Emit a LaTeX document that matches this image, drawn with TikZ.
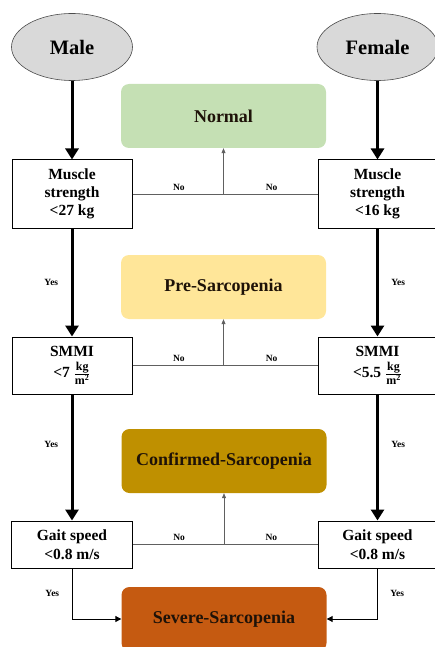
\documentclass[tikz,border=0pt]{standalone}
\usepackage{amsmath}
\usepackage{fontspec}
\setmainfont{Liberation Serif}
\usetikzlibrary{arrows.meta,shapes.geometric}
\definecolor{sexgray}{HTML}{D9D9D9}
\definecolor{normalgreen}{HTML}{C5E0B4}
\definecolor{preyellow}{HTML}{FFE699}
\definecolor{confgold}{HTML}{BF9000}
\definecolor{severeorange}{HTML}{C55A11}
\definecolor{linegray}{HTML}{606060}
\definecolor{textdark}{HTML}{1E1208}
\newcommand{\kgpersq}{$\frac{\hbox{\fontsize{12}{12}\selectfont\bfseries kg}}{\hbox{\fontsize{12}{12}\selectfont\bfseries m\textsuperscript{2}}}$}
\begin{document}
\begin{tikzpicture}[x=1pt,y=-1pt,
  sex/.style={ellipse,draw=black!70,line width=0.6pt,fill=sexgray,minimum width=121pt,minimum height=67pt,inner sep=0pt,font=\fontsize{20.5}{24}\selectfont\bfseries},
  test/.style={rectangle,draw,line width=1pt,align=center,inner sep=0pt,font=\fontsize{15.5}{18}\selectfont\bfseries},
  grade/.style={rectangle,rounded corners=8pt,minimum width=205pt,minimum height=64pt,text=textdark,font=\fontsize{18}{21}\selectfont\bfseries},
  thick arrow/.style={line width=3pt,-{Triangle[width=13pt,length=11pt]}},
  thin line/.style={line width=0.6pt,linegray},
  thin arrow/.style={line width=0.6pt,linegray,-{Triangle[width=4pt,length=5pt]}},
  yes arrow/.style={line width=1pt,-{Triangle[width=6pt,length=6pt]}},
  lbl/.style={text=black,font=\fontsize{9.5}{11}\selectfont\bfseries}]
  \useasboundingbox (0,0) rectangle (435,647);

  \node[sex] (male) at (72,47) {Male};
  \node[sex] (female) at (377.5,47) {Female};

  \node[grade,fill=normalgreen] (normal) at (223.5,116) {Normal};
  \node[grade,fill=preyellow] (pre) at (223.5,287) {Pre-Sarcopenia};
  \node[grade,fill=confgold] (confirmed) at (224,461) {Confirmed-Sarcopenia};
  \node[grade,fill=severeorange] (severe) at (224,619) {Severe-Sarcopenia};

  \node[test,minimum width=120pt,minimum height=68pt] (lmus) at (72,194) {Muscle\\strength\\<27 kg};
  \node[test,minimum width=118pt,minimum height=68pt] (rmus) at (377.5,194) {Muscle\\strength\\<16 kg};
  \node[test,minimum width=120pt,minimum height=57pt] (lsmmi) at (72,365.5) {SMMI\\[3pt]<7 \kgpersq};
  \node[test,minimum width=118pt,minimum height=57pt] (rsmmi) at (377.5,365.5) {SMMI\\[3pt]<5.5 \kgpersq};
  \node[test,minimum width=121pt,minimum height=47pt] (lgait) at (72,544.5) {Gait speed\\[1pt]<0.8 m/s};
  \node[test,minimum width=119pt,minimum height=47pt] (rgait) at (377.5,544.5) {Gait speed\\[1pt]<0.8 m/s};

  % yes branches
  \draw[thick arrow] (male) -- (lmus);
  \draw[thick arrow] (female) -- (rmus);
  \draw[thick arrow] (lmus) -- (lsmmi) node[lbl,midway,left=9pt]{Yes};
  \draw[thick arrow] (rmus) -- (rsmmi) node[lbl,midway,right=9pt]{Yes};
  \draw[thick arrow] (lsmmi) -- (lgait) node[lbl,pos=0.4,left=9pt]{Yes};
  \draw[thick arrow] (rsmmi) -- (rgait) node[lbl,pos=0.4,right=9pt]{Yes};
  \draw[yes arrow] (lgait) |- (severe) node[lbl,pos=0.25,left=9pt]{Yes};
  \draw[yes arrow] (rgait) |- (severe) node[lbl,pos=0.25,right=9pt]{Yes};

  % no branches
  \draw[thin line] (lmus) -- (rmus) node[lbl,pos=0.25,above]{No} node[lbl,pos=0.75,above]{No};
  \draw[thin arrow] (normal.south |- lmus.east) -- (normal.south);
  \draw[thin line] (lsmmi) -- (rsmmi) node[lbl,pos=0.25,above]{No} node[lbl,pos=0.75,above]{No};
  \draw[thin arrow] (pre.south |- lsmmi.east) -- (pre.south);
  \draw[thin line] (lgait) -- (rgait) node[lbl,pos=0.25,above]{No} node[lbl,pos=0.75,above]{No};
  \draw[thin arrow] (confirmed.south |- lgait.east) -- (confirmed.south);
\end{tikzpicture}
\end{document}
